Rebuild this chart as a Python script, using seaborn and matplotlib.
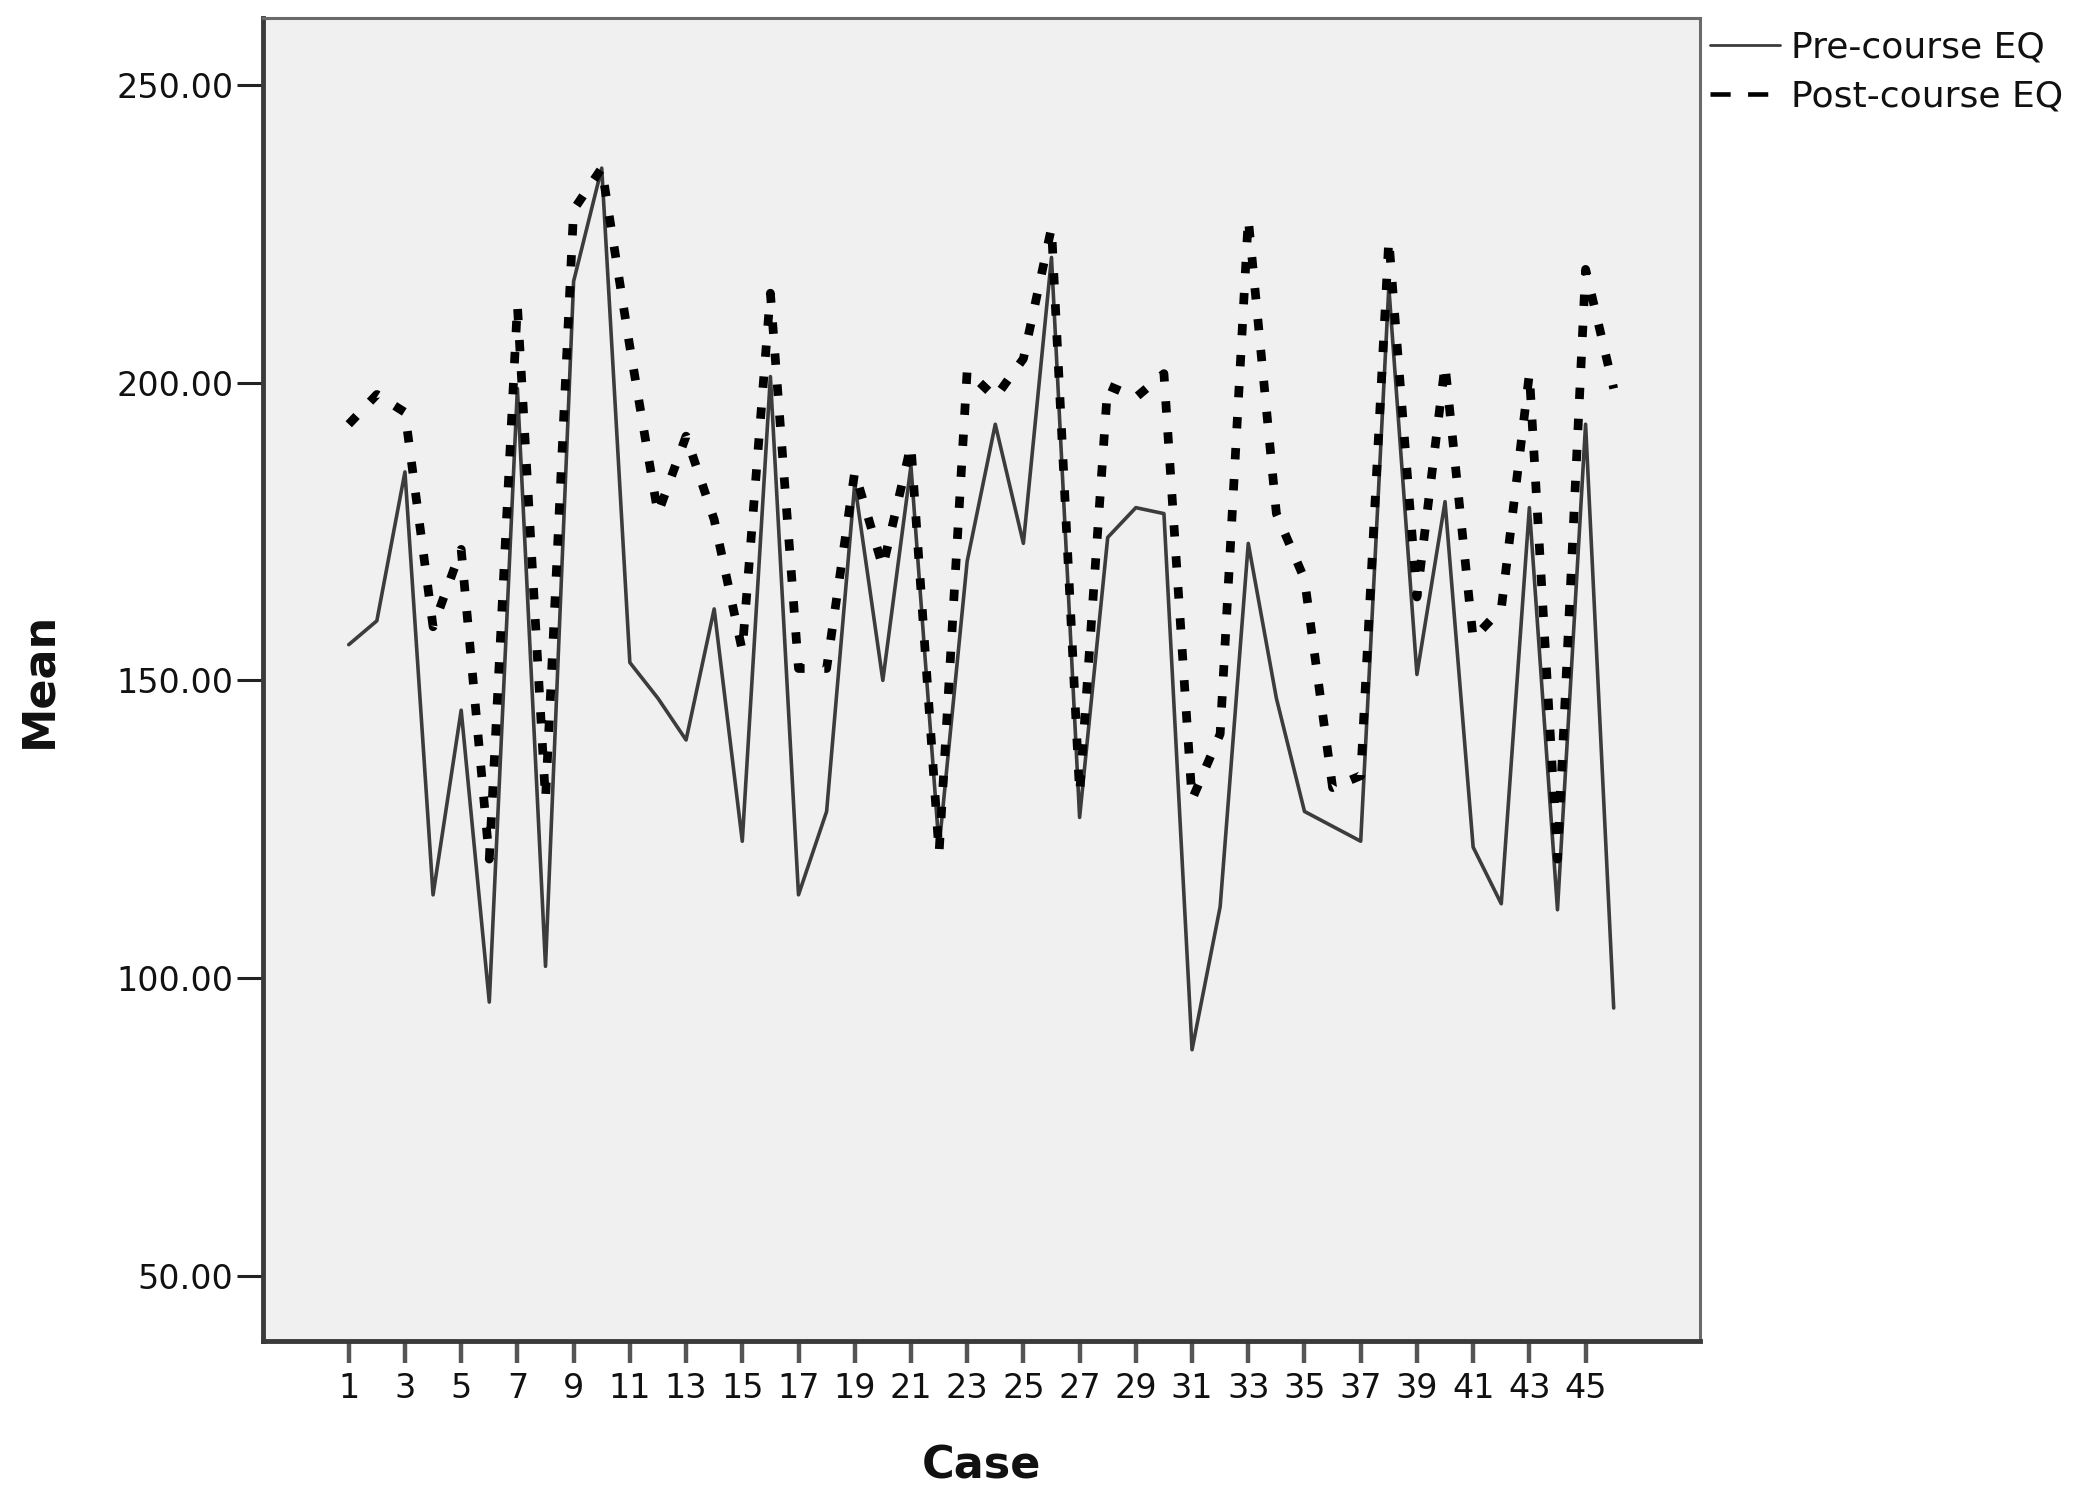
import matplotlib
matplotlib.use("Agg")
import matplotlib.pyplot as plt
from matplotlib.lines import Line2D
import seaborn as sns
import pandas as pd
import numpy as np

# ---- data ----
cases = list(range(1, 47))
pre_course = [156, 160, 185, 114, 145, 96, 199, 102, 217, 236,
              153, 147, 140, 162, 123, 201, 114, 128, 183, 150,
              186, 122, 170, 193, 173, 221, 127, 174, 179, 178,
              88, 112, 173, 147, 128, 125.5, 123, 216, 151, 180,
              122, 112.5, 179, 111.5, 193, 95]
post_course = [193, 198, 195, 159, 172, 120, 213, 130, 229, 236,
               206, 178, 191, 177, 155, 215, 152, 152, 185, 169,
               189.5, 121, 202, 197.5, 204, 226, 131, 199.5, 197.5, 201.5,
               130, 141, 227.5, 178, 167, 132, 134, 224, 164, 203,
               157, 162, 201.5, 120, 219, 199]
series_names = ["Pre-course EQ", "Post-course EQ"]
x_tick_values = list(range(1, 46, 2))
y_tick_values = [50, 100, 150, 200, 250]

df = pd.DataFrame({"Case": cases, "Pre": pre_course, "Post": post_course})

sns.set_theme(style="white")
plt.rcParams["font.family"] = ["DejaVu Sans"]

fig = plt.figure(figsize=(20.91, 15.04), dpi=100)
ax = fig.add_axes([263 / 2091, 1 - 1341 / 1504, (1700 - 263) / 2091, (1341 - 18) / 1504])
ax.set_facecolor("#F0F0F0")

sns.lineplot(data=df, x="Case", y="Pre", ax=ax, color="#3c3c3c", lw=2.6,
             linestyle="-", zorder=2)
sns.lineplot(data=df, x="Case", y="Post", ax=ax, color="#000000", lw=6.3,
             linestyle=(0, (1.3, 2.25)), zorder=3)

ax.set_xlim(-2.05, 49.07)
ax.set_ylim(39.1, 261.2)
ax.set_xticks(x_tick_values)
ax.set_xticklabels([str(v) for v in x_tick_values])
ax.set_yticks(y_tick_values)
ax.set_yticklabels([f"{v:.2f}" for v in y_tick_values])

ax.tick_params(axis="y", which="major", direction="out", length=18.5, width=2.2,
               color="#222222", labelsize=24, pad=3, left=True)
ax.tick_params(axis="x", which="major", direction="out", length=15.5, width=3.2,
               color="#555555", labelsize=24, pad=7, bottom=True)
for lab in ax.get_xticklabels() + ax.get_yticklabels():
    lab.set_color("#111111")

ax.set_xlabel("Case", fontsize=32, fontweight="bold", labelpad=28, color="#111111")
ax.set_ylabel("Mean", fontsize=32, fontweight="bold", labelpad=40, color="#111111")

for side in ["left", "bottom"]:
    ax.spines[side].set_color("#3a3a3a")
    ax.spines[side].set_linewidth(3.5)
for side in ["top", "right"]:
    ax.spines[side].set_color("#6a6a6a")
    ax.spines[side].set_linewidth(2.2)
ax.grid(False)

handles = [
    Line2D([0], [0], color="#3c3c3c", lw=2.0, linestyle="-"),
    Line2D([0], [0], color="#000000", lw=3.3, linestyle=(0, (4.4, 3.8))),
]
leg = fig.legend(handles, series_names, loc="upper left",
                 bbox_to_anchor=(1710 / 2091, 1 - 31 / 1504),
                 frameon=False, fontsize=26, borderpad=0, borderaxespad=0,
                 handlelength=1.95, handletextpad=0.3, labelspacing=0.4)
for t in leg.get_texts():
    t.set_color("#111111")

fig.savefig("out.png", dpi=100)
